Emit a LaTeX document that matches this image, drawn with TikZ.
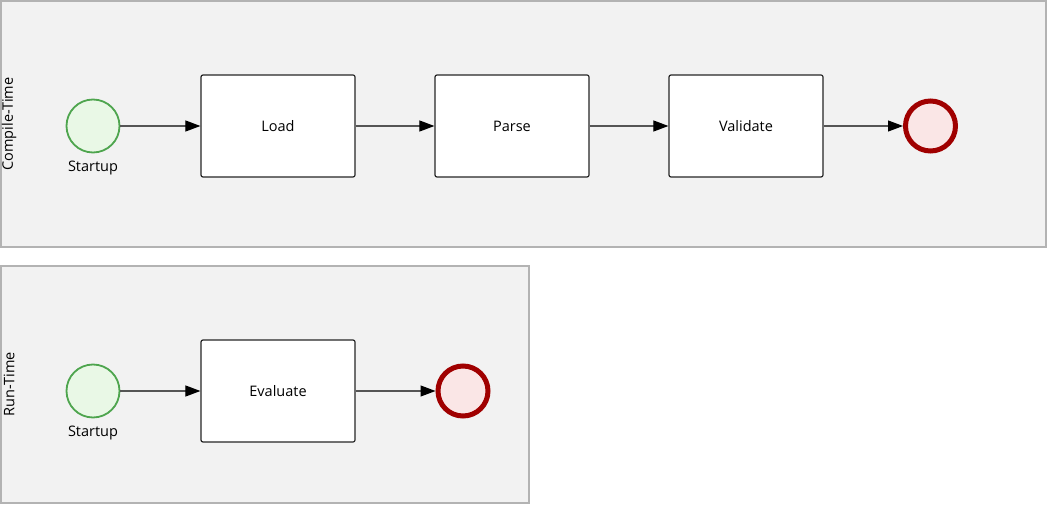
\documentclass[tikz,border=0pt]{standalone}
\usepackage{fontspec}
\setmainfont{Open Sans}
\usetikzlibrary{arrows.meta}
\definecolor{poolfill}{HTML}{F2F2F2}
\definecolor{poolline}{HTML}{B3B3B3}
\definecolor{startline}{HTML}{4EA54E}
\definecolor{startfill}{HTML}{E9F8E6}
\definecolor{endline}{HTML}{A00000}
\definecolor{endfill}{HTML}{FAE6E6}
\definecolor{flowline}{HTML}{555555}
\tikzset{
  pool/.style={draw=poolline, fill=poolfill, line width=1.2pt},
  lanelabel/.style={rotate=90, font=\fontsize{14.5}{17}\selectfont},
  startev/.style={circle, draw=startline, fill=startfill, line width=1.8pt, minimum size=53pt, inner sep=0pt},
  endev/.style={circle, draw=endline, fill=endfill, line width=5pt, minimum size=50pt, inner sep=0pt},
  task/.style={draw=black!85, fill=white, rounded corners=2pt, line width=1.2pt, minimum width=154pt, minimum height=102pt, font=\fontsize{14.5}{17}\selectfont},
  evlabel/.style={font=\fontsize{14.5}{17}\selectfont},
  flow/.style={draw=flowline, line width=1.1pt, -{Triangle[length=15pt,width=11pt,fill=black,color=black]}},
}
\begin{document}
\begin{tikzpicture}[x=1pt,y=-1pt]
\useasboundingbox (0,0) rectangle (1047,505);
% pools
\path[pool] (1,1) rectangle (1046,247);
\path[pool] (1,266) rectangle (529,503);
\node[lanelabel] (l1) at (9,124) {Compile-Time};
\node[lanelabel] (l2) at (9,384) {Run-Time};
% row 1
\node[startev] (s1) at (93,126) {};
\node[evlabel] (s1l) at (93,168) {Startup};
\node[task] (load) at (278,126) {Load};
\node[task] (parse) at (512,126) {Parse};
\node[task] (validate) at (746,126) {Validate};
\node[endev] (e1) at (930.5,126) {};
\draw[flow] (s1) -- (load);
\draw[flow] (load) -- (parse);
\draw[flow] (parse) -- (validate);
\draw[flow] (validate) -- (e1);
% row 2
\node[startev] (s2) at (93,391) {};
\node[evlabel] (s2l) at (93,433) {Startup};
\node[task] (eval) at (278,391) {Evaluate};
\node[endev] (e2) at (463,391) {};
\draw[flow] (s2) -- (eval);
\draw[flow] (eval) -- (e2);
\end{tikzpicture}
\end{document}
